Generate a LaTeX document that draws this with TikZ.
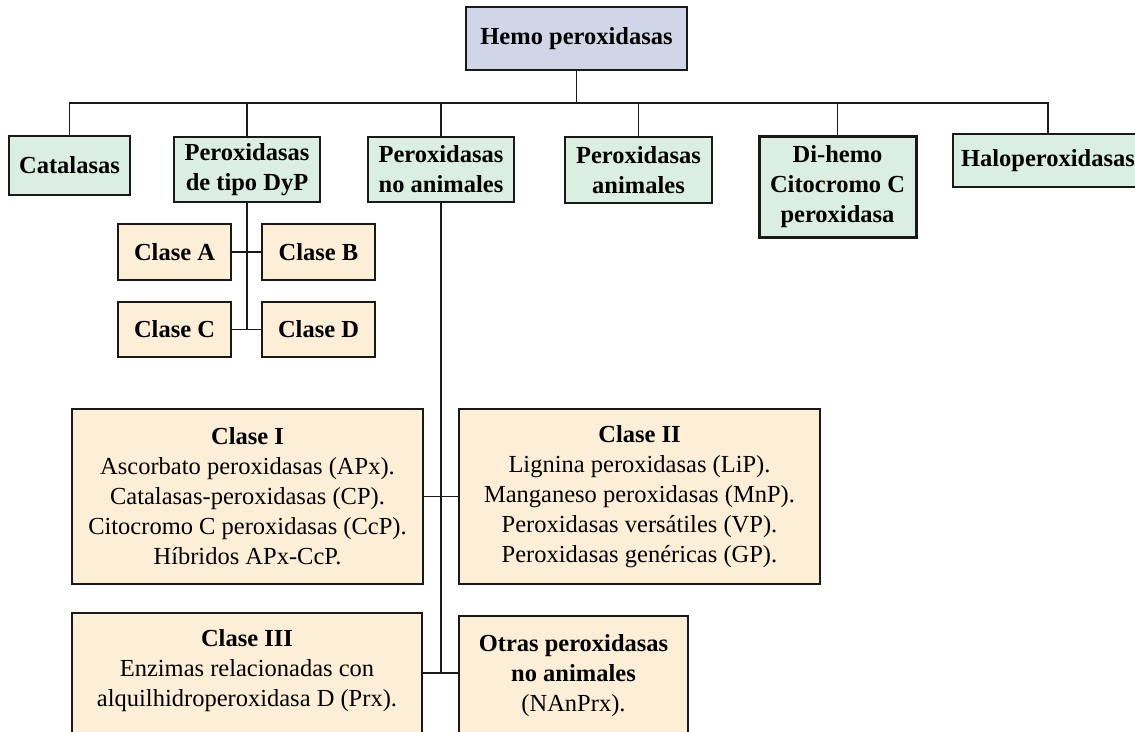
\documentclass[tikz,border=0pt]{standalone}
\usepackage{fontspec}
\setmainfont{Liberation Serif}
\usepackage{tikz}
\usetikzlibrary{calc}
\definecolor{hemofill}{RGB}{208,214,232}
\definecolor{famfill}{RGB}{218,238,226}
\definecolor{clsfill}{RGB}{253,238,216}
\tikzset{
	box/.style={draw=black!90, line width=2pt, align=center, inner sep=0pt, font=\fontsize{24.5}{30}\selectfont\bfseries},
	hemobox/.style={box, fill=hemofill},
	fambox/.style={box, fill=famfill},
	clsbox/.style={box, fill=clsfill},
	bigbox/.style={clsbox, font=\fontsize{24.5}{30}\selectfont},
	txt/.style={align=center, inner sep=0pt, font=\fontsize{24.5}{30}\selectfont},
	link/.style={line width=1.6pt, black!90}
}
\begin{document}
\begin{tikzpicture}[x=1pt,y=-1pt]
	\useasboundingbox (0,0) rectangle (1135,731);
	% top level
	\node[hemobox, minimum width=221, minimum height=63] (hemo) at (576.5,38.5) {Hemo peroxidasas};
	\node[fambox, minimum width=121, minimum height=59] (cat) at (69.5,165.5) {Catalasas};
	\node[fambox, minimum width=146, minimum height=65] (dyp) at (247,169.5) {Peroxidasas\\de tipo DyP};
	\node[fambox, minimum width=146, minimum height=65] (noan) at (441,169.5) {Peroxidasas\\no animales};
	\node[fambox, minimum width=147, minimum height=66] (anim) at (638.5,170) {Peroxidasas\\animales};
	\node[fambox, line width=3pt, minimum width=157, minimum height=101] (dihemo) at (837.5,186.5) {Di-hemo\\Citocromo C\\peroxidasa};
	\node[fambox, minimum width=190, minimum height=53] (halo) at (1048,160.5) {Haloperoxidasas};
	\coordinate (bus) at (hemo.south |- 0,103);
	\draw[link] (hemo.south) -- (bus);
	\foreach \n in {cat,dyp,noan,anim,dihemo,halo}
		\draw[link] (bus) -| (\n.north);
	% DyP classes
	\node[clsbox, minimum width=113, minimum height=56] (clA) at (174.5,252) {Clase A};
	\node[clsbox, minimum width=113, minimum height=56] (clB) at (318.5,252) {Clase B};
	\node[clsbox, minimum width=113, minimum height=55] (clC) at (174.5,329.5) {Clase C};
	\node[clsbox, minimum width=113, minimum height=55] (clD) at (318.5,329.5) {Clase D};
	\coordinate (dypj) at (dyp.south |- clC);
	\draw[link] (dyp.south) -- (dypj);
	\draw[link] (clA) -- (clB);
	\draw[link] (clC) -- (clD);
	% non animal classes
	\node[bigbox, minimum width=351, minimum height=175] (c1) at (247.5,496.5) {\textbf{Clase I}\\Ascorbato peroxidasas (APx).\\Catalasas-peroxidasas (CP).\\Citocromo C peroxidasas (CcP).\\Híbridos APx-CcP.};
	\node[bigbox, minimum width=361, minimum height=175] (c2) at (639.5,496.5) {\textbf{Clase II}\\Lignina peroxidasas (LiP).\\Manganeso peroxidasas (MnP).\\Peroxidasas versátiles (VP).\\Peroxidasas genéricas (GP).};
	\node[clsbox, anchor=north, minimum width=350, minimum height=140] (c3) at (247,612) {};
	\node[txt, anchor=north] (c3txt) at ([yshift=-17pt]c3.north) {\textbf{Clase III}\\Enzimas relacionadas con\\alquilhidroperoxidasa D (Prx).};
	\node[clsbox, anchor=north, minimum width=229, minimum height=140] (ot) at (573.5,615) {};
	\node[txt, anchor=north] (ottxt) at ([yshift=-19pt]ot.north) {\textbf{Otras peroxidasas}\\\textbf{no animales}\\(NAnPrx).};
	\coordinate (noanj) at (noan.south |- 0,673);
	\draw[link] (noan.south) -- (noanj);
	\draw[link] (c1) -- (c2);
	\draw[link] (c3.east |- noanj) -- (ot.west |- noanj);
\end{tikzpicture}
\end{document}
